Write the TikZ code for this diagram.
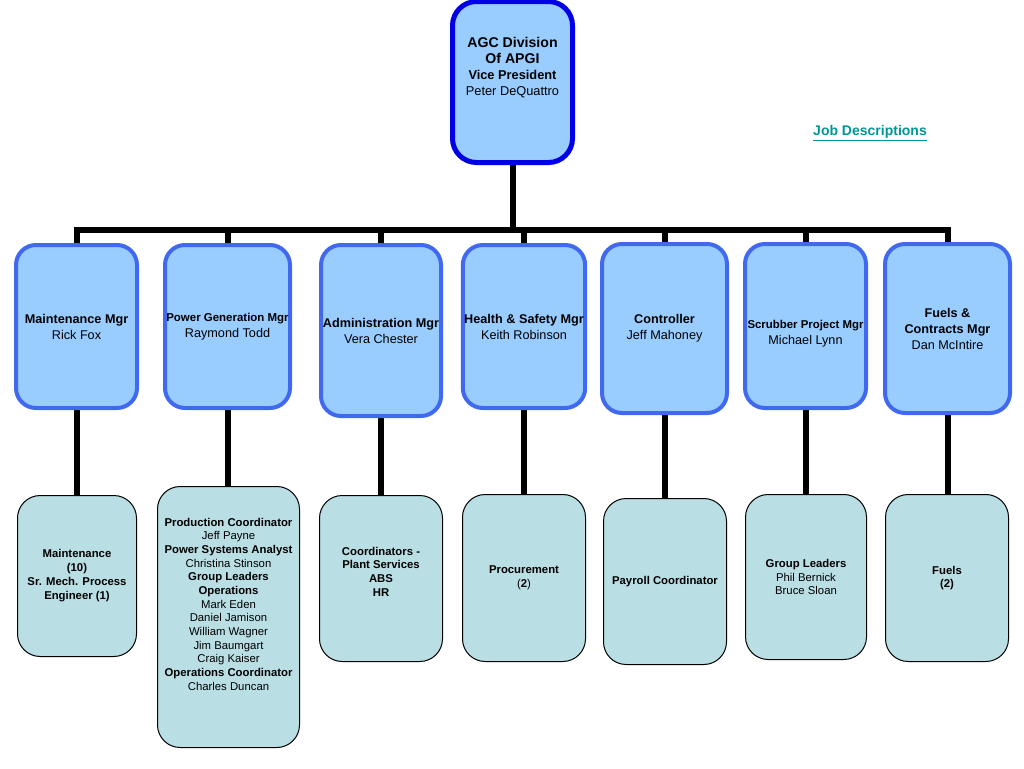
\documentclass[tikz,border=0pt]{standalone}
\usepackage{fontspec}
\setmainfont{Liberation Sans}
\usetikzlibrary{backgrounds}
\definecolor{vpblue}{RGB}{0,0,230}
\definecolor{mgrblue}{RGB}{65,105,240}
\definecolor{mgrfill}{RGB}{153,204,255}
\definecolor{subfill}{RGB}{185,222,228}
\definecolor{jobteal}{RGB}{0,150,150}
\begin{document}
\begin{tikzpicture}[x=0.75pt,y=-0.75pt,
	vpbox/.style={draw=vpblue,line width=3.75pt,fill=mgrfill,rounded corners=18pt,minimum width=90pt,minimum height=120.75pt},
	mgrbox/.style={draw=mgrblue,line width=3pt,fill=mgrfill,rounded corners=15pt,inner sep=1pt,align=center,font=\fontsize{9.5}{12}\selectfont},
	subbox/.style={draw=black,line width=0.75pt,fill=subfill,rounded corners=17pt,inner sep=1pt,align=center,font=\fontsize{8.5}{10.3}\selectfont},
	link/.style={draw=black,line width=4.5pt}]
				\useasboundingbox (0,0) rectangle (1024,768);
				
				\node[vpbox] (vp) at (512.5,82) {};
				\node[align=center,font=\fontsize{10.6}{12}\selectfont\bfseries] (vptext) at (512.5,67.5) {AGC Division\\Of APGI\\{\fontsize{9.6}{12}\selectfont Vice President}\\{\fontsize{9.6}{11.5}\selectfont\mdseries Peter DeQuattro}};
				\node[text=jobteal,font=\fontsize{10.5}{12}\selectfont\bfseries] (jobs) at (870,133) {\underline{Job Descriptions}};
				
				\node[mgrbox,minimum width=90.75pt,minimum height=122.25pt] (maint) at (76.5,326.5) {\textbf{Maintenance Mgr}\\Rick Fox};
				\node[mgrbox,minimum width=90.75pt,minimum height=122.25pt] (powgen) at (227.5,326.5) {{\fontsize{8.6}{12}\selectfont\bfseries Power Generation Mgr}\\Raymond Todd};
				\node[mgrbox,minimum width=90pt,minimum height=128.25pt] (admin) at (381,330.5) {\textbf{Administration Mgr}\\Vera Chester};
				\node[mgrbox,minimum width=90pt,minimum height=122.25pt] (safety) at (524,326.5) {\textbf{Health \& Safety Mgr}\\Keith Robinson};
				\node[mgrbox,minimum width=93.75pt,minimum height=126.75pt] (control) at (664.5,328.5) {\textbf{Controller}\\Jeff Mahoney};
				\node[mgrbox,minimum width=90.75pt,minimum height=123pt] (scrub) at (805.5,326) {};
				\node[align=center,inner sep=1pt,font=\fontsize{9.5}{12}\selectfont] (scrubtext) at (805.5,334) {{\fontsize{8.55}{12}\selectfont\bfseries Scrubber Project Mgr}\\Michael Lynn};
				\node[mgrbox,minimum width=93.75pt,minimum height=126.75pt] (fuels) at (947.5,328.5) {\textbf{Fuels \&}\\\textbf{Contracts Mgr}\\Dan McIntire};
				
				\node[subbox,minimum width=89.25pt,minimum height=120.75pt,font=\fontsize{8.5}{10.5}\selectfont\bfseries] (maintsub) at (77,576) {Maintenance\\(10)\\Sr. Mech. Process\\Engineer (1)};
				\node[subbox,minimum width=106.5pt,minimum height=195.75pt] (powgensub) at (228.5,617) {};
				\node[align=center,font=\fontsize{8.5}{10.25}\selectfont] (powgentext) at (228.5,604) {\textbf{Production Coordinator}\\Jeff Payne\\\textbf{Power Systems Analyst}\\Christina Stinson\\\textbf{Group Leaders}\\\textbf{Operations}\\Mark Eden\\Daniel Jamison\\William Wagner\\Jim Baumgart\\Craig Kaiser\\\textbf{Operations Coordinator}\\Charles Duncan};
				\node[subbox,minimum width=92.25pt,minimum height=124.5pt] (adminsub) at (381,578.5) {};
				\node[align=center,font=\fontsize{8.5}{10.3}\selectfont\bfseries] (admintext) at (381,571.5) {Coordinators -\\Plant Services\\ABS\\HR};
				\node[subbox,minimum width=92.25pt,minimum height=125.25pt] (safetysub) at (524,578) {\textbf{Procurement}\\(\textbf{2})};
				\node[subbox,minimum width=92.25pt,minimum height=124.5pt] (controlsub) at (665,581.5) {\textbf{Payroll Coordinator}};
				\node[subbox,minimum width=90.75pt,minimum height=123.75pt] (scrubsub) at (806,577) {\textbf{Group Leaders}\\Phil Bernick\\Bruce Sloan};
				\node[subbox,minimum width=92.25pt,minimum height=125.25pt,font=\fontsize{8.5}{10.3}\selectfont\bfseries] (fuelssub) at (947,578) {Fuels\\(2)};
				
				\coordinate (bus) at (512,230);
				\begin{scope}[on background layer]
					\draw[link] (vp.south) -- (vp.south |- bus);
					\draw[link,line cap=rect] (maint.north |- bus) -- (fuels.north |- bus);
					\foreach \mgr/\sub in {maint/maintsub,powgen/powgensub,admin/adminsub,safety/safetysub,control/controlsub,scrub/scrubsub,fuels/fuelssub}{
						\draw[link] (\mgr.north |- bus) -- (\mgr.north);
						\draw[link] (\mgr.south) -- (\mgr.south |- \sub.north);
					}
				\end{scope}
			\end{tikzpicture}
\end{document}
